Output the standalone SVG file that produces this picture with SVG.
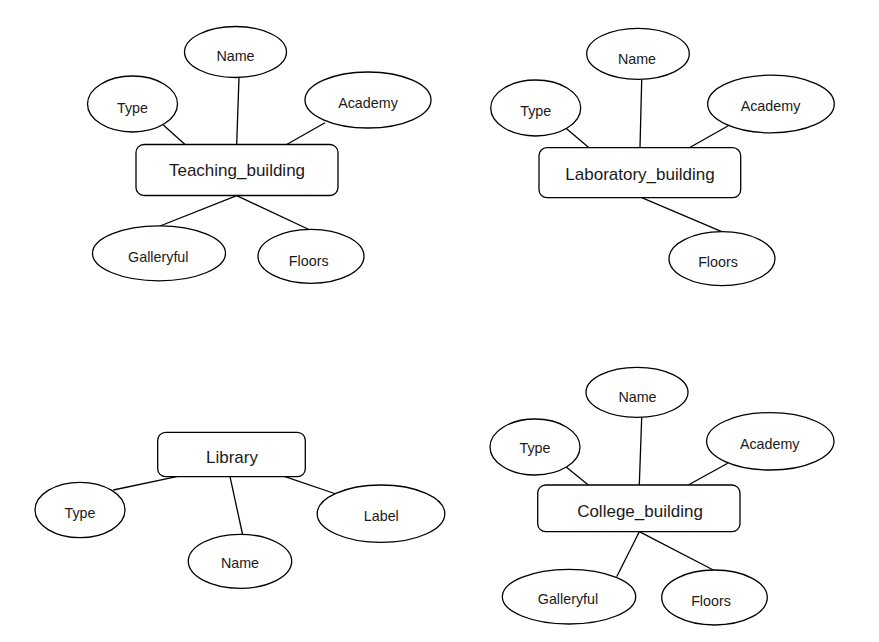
<svg xmlns="http://www.w3.org/2000/svg" width="879" height="642" viewBox="0 0 879 642">
<style>
.e{fill:#fff;stroke:#000;stroke-width:1.3}
.r{fill:#fff;stroke:#000;stroke-width:1.3}
.c line{stroke:#000;stroke-width:1.3}
text{font-family:"Liberation Sans",Arial,sans-serif;fill:#1a1a1a;text-anchor:middle}
.a{font-size:14.3px}
.t{font-size:17px}
</style>
<rect width="879" height="642" fill="#fff"/>
<g id="connectors" class="c">
<line x1="163.3" y1="125" x2="186.7" y2="146"/>
<line x1="239" y1="77.3" x2="236.7" y2="144.5"/>
<line x1="325" y1="122.7" x2="286.7" y2="144.5"/>
<line x1="236.7" y1="195.7" x2="160" y2="226"/>
<line x1="236.7" y1="195.7" x2="310" y2="230"/>
<line x1="566" y1="128.3" x2="589.3" y2="148"/>
<line x1="641.7" y1="80" x2="640" y2="147.7"/>
<line x1="728.3" y1="125.7" x2="689.3" y2="147.7"/>
<line x1="641.7" y1="197.7" x2="721.7" y2="231.7"/>
<line x1="113.3" y1="490" x2="176.7" y2="476.7"/>
<line x1="230" y1="476.7" x2="242.7" y2="535"/>
<line x1="285" y1="476.7" x2="336" y2="494"/>
<line x1="565" y1="466" x2="588.3" y2="485"/>
<line x1="641.7" y1="417.3" x2="639.3" y2="485"/>
<line x1="727.7" y1="463.3" x2="688.3" y2="485"/>
<line x1="639.3" y1="531.7" x2="616.7" y2="576.7"/>
<line x1="639.3" y1="531.7" x2="713.3" y2="570"/>
</g>
<g id="teaching_building"><rect class="r" x="136" y="144.5" width="202" height="51" rx="8"/><text class="t" x="237" y="175.5">Teaching_building</text></g>
<g id="tb_name"><ellipse class="e" cx="235.5" cy="52" rx="51" ry="25.5"/><text class="a" x="235.5" y="61">Name</text></g>
<g id="tb_type"><ellipse class="e" cx="132.5" cy="104" rx="45" ry="28"/><text class="a" x="132.5" y="112.5">Type</text></g>
<g id="tb_academy"><ellipse class="e" cx="368" cy="100" rx="63" ry="28"/><text class="a" x="368" y="108">Academy</text></g>
<g id="tb_galleryful"><ellipse class="e" cx="159" cy="253.3" rx="66.5" ry="27.5"/><text class="a" x="158.3" y="262">Galleryful</text></g>
<g id="tb_floors"><ellipse class="e" cx="311" cy="256.3" rx="53" ry="27"/><text class="a" x="308.7" y="266">Floors</text></g>

<g id="laboratory_building"><rect class="r" x="539" y="147.7" width="201.7" height="50" rx="8"/><text class="t" x="640" y="179.5">Laboratory_building</text></g>
<g id="lb_name"><ellipse class="e" cx="638" cy="53.8" rx="51.3" ry="25.5"/><text class="a" x="637" y="64">Name</text></g>
<g id="lb_type"><ellipse class="e" cx="535.7" cy="108" rx="45" ry="28"/><text class="a" x="535.7" y="115.7">Type</text></g>
<g id="lb_academy"><ellipse class="e" cx="771" cy="104" rx="63.3" ry="28.8"/><text class="a" x="770.5" y="111">Academy</text></g>
<g id="lb_floors"><ellipse class="e" cx="722" cy="258.7" rx="53" ry="27"/><text class="a" x="718" y="267">Floors</text></g>

<g id="library"><rect class="r" x="157.7" y="432.3" width="147.6" height="44.4" rx="8"/><text class="t" x="232" y="463.3">Library</text></g>
<g id="li_type"><ellipse class="e" cx="80" cy="510" rx="45" ry="27.7"/><text class="a" x="80" y="518">Type</text></g>
<g id="li_name"><ellipse class="e" cx="240" cy="561.3" rx="51.7" ry="27"/><text class="a" x="240" y="568.3">Name</text></g>
<g id="li_label"><ellipse class="e" cx="381" cy="513.7" rx="63.8" ry="28.7"/><text class="a" x="381.3" y="521">Label</text></g>

<g id="college_building"><rect class="r" x="537.7" y="485" width="202.3" height="46.7" rx="8"/><text class="t" x="640" y="516.5">College_building</text></g>
<g id="cb_name"><ellipse class="e" cx="637" cy="392.3" rx="51" ry="25"/><text class="a" x="637.5" y="401.5">Name</text></g>
<g id="cb_type"><ellipse class="e" cx="535" cy="447" rx="45" ry="28"/><text class="a" x="535" y="453.3">Type</text></g>
<g id="cb_academy"><ellipse class="e" cx="770.3" cy="441.3" rx="63.7" ry="28.7"/><text class="a" x="769.7" y="449.3">Academy</text></g>
<g id="cb_galleryful"><ellipse class="e" cx="569" cy="596.7" rx="66.7" ry="27.3"/><text class="a" x="568" y="604.3">Galleryful</text></g>
<g id="cb_floors"><ellipse class="e" cx="714.5" cy="597.5" rx="52.8" ry="27.5"/><text class="a" x="711" y="605.5">Floors</text></g>
</svg>
